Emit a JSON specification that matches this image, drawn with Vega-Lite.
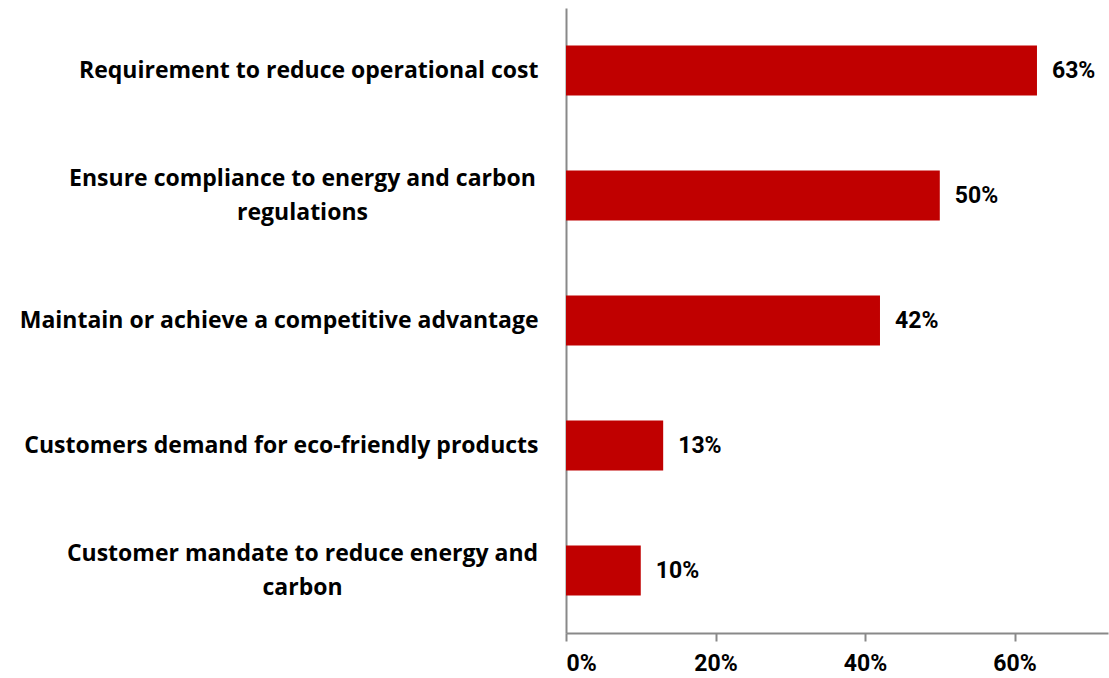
{
  "$schema": "https://vega.github.io/schema/vega-lite/v6.json",
  "autosize": "none",
  "width": 542,
  "height": 625,
  "padding": {"left": 566, "top": 8, "right": 1, "bottom": 45},
  "background": "white",
  "config": {"view": {"stroke": null}},
  "data": {
    "values": [
      {"reason": "Requirement to reduce operational cost", "value": 0.63},
      {"reason": "Ensure compliance to energy and carbon|regulations", "value": 0.50},
      {"reason": "Maintain or achieve a competitive advantage", "value": 0.42},
      {"reason": "Customers demand for eco-friendly products", "value": 0.13},
      {"reason": "Customer mandate to reduce energy and|carbon", "value": 0.10}
    ]
  },
  "encoding": {
    "y": {
      "field": "reason",
      "type": "nominal",
      "sort": null,
      "scale": {"paddingInner": 0.6, "paddingOuter": 0.3},
      "axis": {
        "title": null,
        "domainColor": "#898989",
        "domainWidth": 2,
        "ticks": false,
        "labelExpr": "split(datum.value, '|')",
        "labelAlign": {"expr": "indexof(datum.value, '|') >= 0 ? 'center' : 'right'"},
        "labelPadding": {"expr": "indexof(datum.value, '|') >= 0 ? 264 : 28"},
        "labelOffset": {"expr": "indexof(datum.value, '|') >= 0 ? -17 : 0"},
        "labelFont": "Open Sans",
        "labelFontWeight": "bold",
        "labelFontSize": 23,
        "labelColor": "#000000",
        "labelLimit": 0,
        "labelLineHeight": 34
      }
    },
    "x": {
      "field": "value",
      "type": "quantitative",
      "scale": {"domain": [0, 0.725], "nice": false},
      "axis": {
        "title": null,
        "values": [0, 0.2, 0.4, 0.6],
        "format": ".0%",
        "grid": false,
        "domainColor": "#898989",
        "domainWidth": 2,
        "tickColor": "#898989",
        "tickWidth": 2,
        "tickSize": 8,
        "labelPadding": 11,
        "labelFont": "Roboto",
        "labelFontWeight": "bold",
        "labelFontSize": 23,
        "labelColor": "#000000"
      }
    }
  },
  "layer": [
    {"mark": {"type": "bar", "color": "#C00000"}},
    {
      "mark": {
        "type": "text",
        "align": "left",
        "baseline": "middle",
        "dx": 15,
        "font": "Roboto",
        "fontWeight": "bold",
        "fontSize": 23,
        "color": "#000000"
      },
      "encoding": {"text": {"field": "value", "type": "quantitative", "format": ".0%"}}
    }
  ]
}
